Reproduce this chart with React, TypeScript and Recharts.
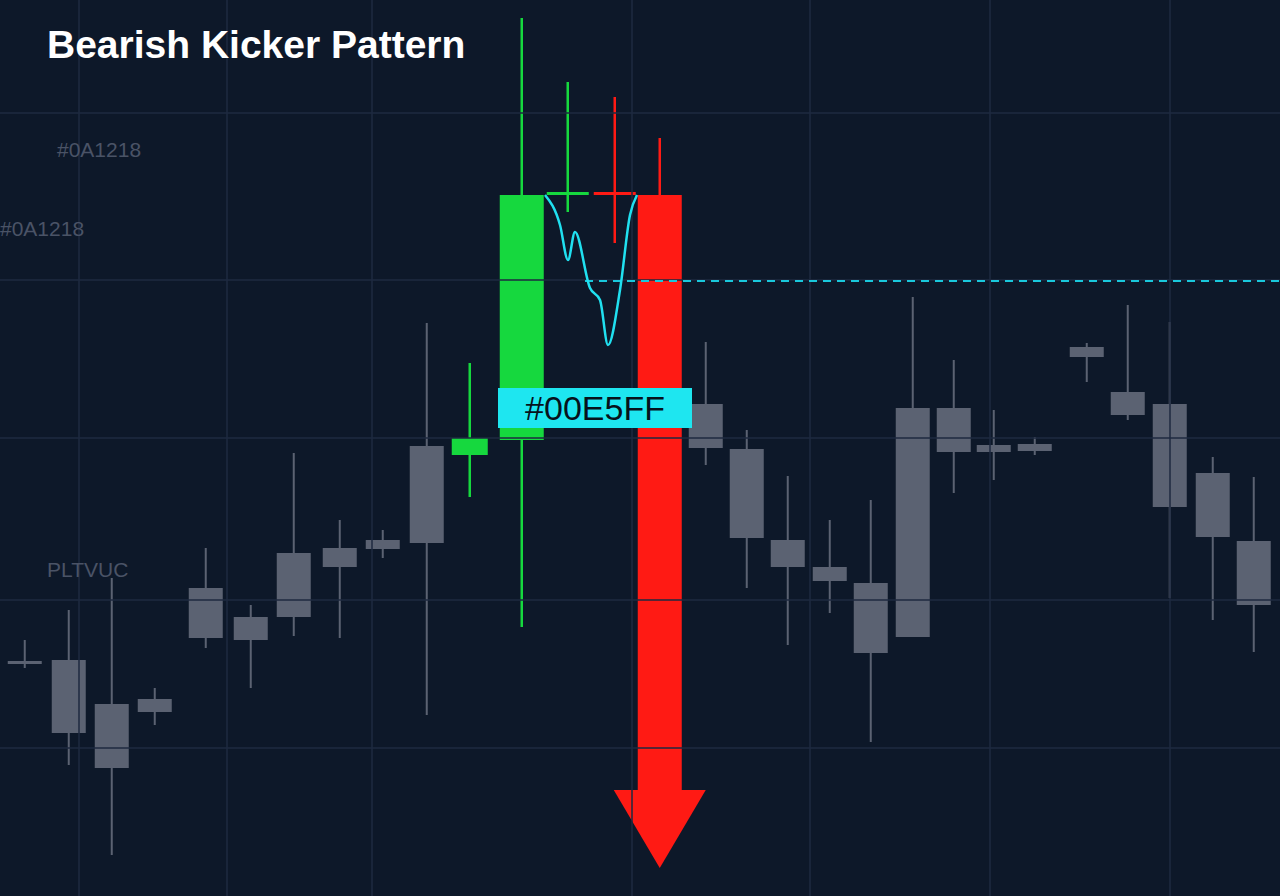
import React from "react";
import { ComposedChart, Bar, XAxis, YAxis, ReferenceLine, Line } from "recharts";

// y-values in pixel-like units (axis reversed, 0 = top)
const xs = [25, 69, 112, 155, 206, 251, 294, 340, 383, 427, 470, 522, 568, 615, 660, 706, 747, 788, 830, 871, 913, 954, 994, 1035, 1087, 1128, 1170, 1213, 1254];
const highs = [640, 610, 578, 688, 548, 605, 453, 520, 530, 323, 363, 18, 82, 97, 138, 342, 430, 476, 520, 500, 297, 360, 410, 437, 343, 305, 322, 457, 477];
const lows = [668, 765, 855, 725, 648, 688, 636, 638, 558, 715, 497, 627, 212, 243, 790, 465, 588, 645, 613, 742, 637, 493, 480, 455, 382, 420, 598, 620, 652];
const bodyTops = [661, 660, 704, 699, 588, 617, 553, 548, 540, 446, 438, 195, 192, 192, 195, 404, 449, 540, 567, 583, 408, 408, 445, 444, 347, 392, 404, 473, 541];
const bodyBottoms = [663, 733, 768, 712, 638, 640, 617, 567, 549, 543, 455, 440, 195, 195, 790, 448, 538, 567, 581, 653, 637, 452, 452, 451, 357, 415, 507, 537, 605];
const kinds = ["g","g","g","g","g","g","g","g","g","g","up","up","up","dn","dn","g","g","g","g","g","g","g","g","g","g","g","g","g","g"];
const bodyWidths = [34, 34, 34, 34, 34, 34, 34, 34, 34, 34, 36, 44, 42, 42, 44, 34, 34, 34, 34, 34, 34, 34, 34, 34, 34, 34, 34, 34, 34];

const squiggleX = [545, 560, 568, 575, 590, 600, 608, 620, 630, 637];
const squiggleY = [195, 225, 260, 232, 288, 300, 345, 290, 215, 195];

const gridX = [79, 227, 372, 632, 810, 990, 1170];
const gridY = [113, 280, 438, 600, 748];

const data = xs.map((x, i) => ({ x, range: [highs[i], lows[i]], i }));
const squiggle = squiggleX.map((x, i) => ({ x, sq: squiggleY[i] }));

const colorOf = (k: string) => (k === "up" ? "#16d83e" : k === "dn" ? "#ff1a14" : "#5b6272");

const Candle = (props: any) => {
  const { x, y, width, height, payload } = props;
  const i = payload.i;
  const k = kinds[i];
  const top = Math.min(y, y + height);
  const h = Math.abs(height);
  const ppu = h / (lows[i] - highs[i]);
  const cx = x + width / 2;
  const bt = top + (bodyTops[i] - highs[i]) * ppu;
  const bb = top + (bodyBottoms[i] - highs[i]) * ppu;
  const bw = bodyWidths[i];
  const c = colorOf(k);
  return (
    <g>
      <line x1={cx} x2={cx} y1={top} y2={top + h} stroke={c} strokeWidth={k === "g" ? 2 : 2.5} />
      <rect x={cx - bw / 2} y={bt} width={bw} height={Math.max(bb - bt, 3)} fill={c} />
      {i === 14 && (
        <polygon points={`${cx - 46},${bb} ${cx + 46},${bb} ${cx},${bb + 78}`} fill={c} />
      )}
    </g>
  );
};

export default function App() {
  return (
    <div style={{ position: "absolute", left: 0, top: 0, width: 1280, height: 896, background: "#0d1829", overflow: "hidden", fontFamily: "Liberation Sans, Arial, sans-serif" }}>
      <ComposedChart width={1280} height={896} data={data} margin={{ top: 0, right: 0, bottom: 0, left: 0 }}>
        <XAxis type="number" dataKey="x" domain={[0, 1280]} hide />
        <YAxis type="number" domain={[0, 896]} reversed hide />
        {gridX.map((g) => (
          <ReferenceLine key={"x" + g} x={g} stroke="#1e2a40" strokeWidth={1.5} />
        ))}
        {gridY.map((g) => (
          <ReferenceLine key={"y" + g} y={g} stroke="#1e2a40" strokeWidth={1.5} />
        ))}
        <Bar dataKey="range" barSize={10} shape={<Candle />} isAnimationActive={false} />
        <ReferenceLine segment={[{ x: 585, y: 281 }, { x: 1280, y: 281 }]} stroke="#19c8dc" strokeDasharray="8 6" strokeWidth={2} />
        <Line data={squiggle} dataKey="sq" type="monotone" stroke="#20e0f0" strokeWidth={2.5} dot={false} activeDot={false} isAnimationActive={false} />
      </ComposedChart>
      <div style={{ position: "absolute", left: 47, top: 23, color: "#fff", fontSize: 39, fontWeight: 700 }}>Bearish Kicker Pattern</div>
      <div style={{ position: "absolute", left: 57, top: 138, color: "#4a5366", fontSize: 21 }}>#0A1218</div>
      <div style={{ position: "absolute", left: 0, top: 217, color: "#4a5366", fontSize: 21 }}>#0A1218</div>
      <div style={{ position: "absolute", left: 47, top: 558, color: "#4a5366", fontSize: 21 }}>PLTVUC</div>
      <div style={{ position: "absolute", left: 498, top: 388, width: 194, height: 40, background: "#1ee6f0", color: "#06121c", fontSize: 34, lineHeight: "40px", textAlign: "center" }}>#00E5FF</div>
    </div>
  );
}
